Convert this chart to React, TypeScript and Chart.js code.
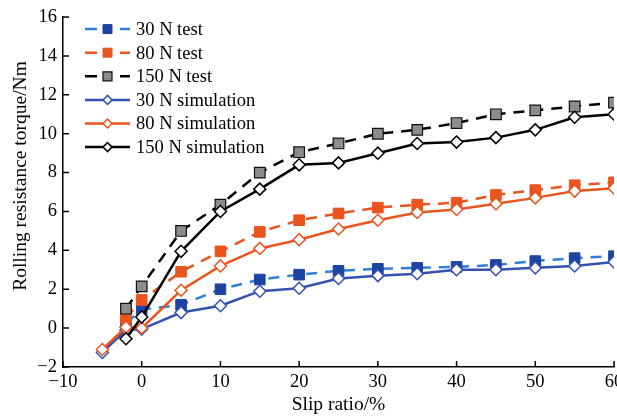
import React, { useEffect, useRef } from "react";
import { Chart, registerables } from "chart.js";

Chart.register(...registerables);

// ---- Data ----
const xTest = [-2, 0, 5, 10, 15, 20, 25, 30, 35, 40, 45, 50, 55, 60];
const test30 = [0.25, 0.95, 1.2, 2.0, 2.5, 2.75, 2.95, 3.05, 3.1, 3.15, 3.25, 3.45, 3.6, 3.7];
const test80 = [0.5, 1.45, 2.9, 3.95, 4.95, 5.55, 5.9, 6.2, 6.35, 6.45, 6.85, 7.1, 7.35, 7.5];
const test150 = [1.0, 2.15, 5.0, 6.35, 8.0, 9.05, 9.5, 10.0, 10.2, 10.55, 11.0, 11.2, 11.4, 11.6];

const xSim = [-5, -2, 0, 5, 10, 15, 20, 25, 30, 35, 40, 45, 50, 55, 60];
const sim30 = [-1.25, -0.1, -0.05, 0.8, 1.15, 1.9, 2.05, 2.55, 2.7, 2.8, 3.0, 3.0, 3.1, 3.2, 3.4];
const sim80 = [-1.1, 0.05, 0.0, 1.95, 3.2, 4.1, 4.55, 5.1, 5.55, 5.95, 6.1, 6.4, 6.7, 7.05, 7.2];
const sim150 = [null, -0.55, 0.57, 3.95, 6.0, 7.15, 8.4, 8.5, 9.0, 9.5, 9.57, 9.8, 10.2, 10.85, 11.0];

const seriesLabels = [
  "30 N test",
  "80 N test",
  "150 N test",
  "30 N simulation",
  "80 N simulation",
  "150 N simulation",
];

const xTitle = "Slip ratio/%";
const yTitle = "Rolling resistance torque/Nm";

const FONT_FAMILY = "'Liberation Serif', 'Times New Roman', serif";

const pts = (xs: number[], ys: (number | null)[]) => xs.map((x, i) => ({ x, y: ys[i] }));

const fmt = (v: number) => (v < 0 ? "\u2212" + Math.abs(v) : String(v));

const tickMarksPlugin = {
  id: "tickMarks",
  afterDraw(chart: any) {
    const { ctx, chartArea } = chart;
    const xs = chart.scales.x;
    const ys = chart.scales.y;
    ctx.save();
    ctx.strokeStyle = "#000";
    ctx.lineWidth = 1.5;
    ctx.beginPath();
    xs.ticks.forEach((t: any) => {
      const px = xs.getPixelForValue(t.value);
      ctx.moveTo(px, chartArea.bottom);
      ctx.lineTo(px, chartArea.bottom - 6);
    });
    ys.ticks.forEach((t: any) => {
      const py = ys.getPixelForValue(t.value);
      ctx.moveTo(chartArea.left, py);
      ctx.lineTo(chartArea.left + 6, py);
    });
    ctx.stroke();

    // axis titles
    ctx.fillStyle = "#000";
    ctx.font = `19.5px ${FONT_FAMILY}`;
    ctx.textAlign = "center";
    ctx.textBaseline = "middle";
    ctx.fillText(xTitle, (chartArea.left + chartArea.right) / 2, 405);
    ctx.save();
    ctx.translate(21, 176);
    ctx.rotate(-Math.PI / 2);
    ctx.fillText(yTitle, 0, 0);
    ctx.restore();
    ctx.restore();
  },
};

const legendPlugin = {
  id: "customLegend",
  afterDraw(chart: any) {
    const { ctx, chartArea } = chart;
    const x0 = chartArea.left + 22;
    const y0 = chartArea.top + 12;
    const rowH = 23.6;
    ctx.save();
    seriesLabels.forEach((label, row) => {
      const ds = chart.data.datasets.find((d: any) => d.label === label);
      if (!ds) return;
      const y = y0 + row * rowH;
      const xa = x0;
      const xb = x0 + 45;
      const xm = (xa + xb) / 2;
      ctx.strokeStyle = ds.borderColor;
      ctx.lineWidth = ds.borderWidth;
      ctx.setLineDash([]);
      ctx.beginPath();
      if (ds.borderDash && ds.borderDash.length) {
        ctx.moveTo(xa, y);
        ctx.lineTo(xa + 12, y);
        ctx.moveTo(xb - 10, y);
        ctx.lineTo(xb, y);
      } else {
        ctx.moveTo(xa, y);
        ctx.lineTo(xb, y);
      }
      ctx.stroke();
      // marker
      ctx.fillStyle = ds.pointBackgroundColor;
      ctx.strokeStyle = ds.pointBorderColor;
      ctx.lineWidth = ds.pointBorderWidth;
      if (ds.pointStyle === "rect") {
        const s = 4.5;
        ctx.beginPath();
        ctx.rect(xm - s, y - s, 2 * s, 2 * s);
        ctx.fill();
        ctx.stroke();
      } else {
        const r = 4.5;
        ctx.beginPath();
        ctx.moveTo(xm, y - r);
        ctx.lineTo(xm + r, y);
        ctx.lineTo(xm, y + r);
        ctx.lineTo(xm - r, y);
        ctx.closePath();
        ctx.fill();
        ctx.stroke();
      }
      ctx.fillStyle = "#000";
      ctx.font = `18.5px ${FONT_FAMILY}`;
      ctx.textAlign = "left";
      ctx.textBaseline = "middle";
      ctx.fillText(label, x0 + 51, y + 1);
    });
    ctx.restore();
  },
};

export default function App() {
  const ref = useRef<HTMLCanvasElement>(null);

  useEffect(() => {
    const canvas = ref.current;
    if (!canvas) return;
    const testDash = [11, 8];
    const datasets: any[] = [
      {
        label: seriesLabels[0],
        data: pts(xTest, test30),
        borderColor: "#2f7fd6",
        borderWidth: 2.5,
        borderDash: testDash,
        pointStyle: "rect",
        pointRadius: 7.5,
        pointBackgroundColor: "#1d44a3",
        pointBorderColor: "#1d44a3",
        pointBorderWidth: 1,
        order: 5,
      },
      {
        label: seriesLabels[1],
        data: pts(xTest, test80),
        borderColor: "#e9541f",
        borderWidth: 2.5,
        borderDash: testDash,
        pointStyle: "rect",
        pointRadius: 7.5,
        pointBackgroundColor: "#e9541f",
        pointBorderColor: "#e9541f",
        pointBorderWidth: 1,
        order: 4,
      },
      {
        label: seriesLabels[2],
        data: pts(xTest, test150),
        borderColor: "#000000",
        borderWidth: 2.5,
        borderDash: testDash,
        pointStyle: "rect",
        pointRadius: 7.5,
        pointBackgroundColor: "#8c8c8c",
        pointBorderColor: "#111111",
        pointBorderWidth: 1.2,
        order: 3,
      },
      {
        label: seriesLabels[3],
        data: pts(xSim, sim30),
        borderColor: "#3450b0",
        borderWidth: 2.5,
        pointStyle: "rectRot",
        pointRadius: 6,
        pointBackgroundColor: "#ffffff",
        pointBorderColor: "#3450b0",
        pointBorderWidth: 1.5,
        order: 2,
      },
      {
        label: seriesLabels[4],
        data: pts(xSim, sim80),
        borderColor: "#e9541f",
        borderWidth: 2.5,
        pointStyle: "rectRot",
        pointRadius: 6,
        pointBackgroundColor: "#ffffff",
        pointBorderColor: "#e9541f",
        pointBorderWidth: 1.5,
        order: 1,
      },
      {
        label: seriesLabels[5],
        data: pts(xSim, sim150),
        borderColor: "#000000",
        borderWidth: 2.5,
        pointStyle: "rectRot",
        pointRadius: 6,
        pointBackgroundColor: "#ffffff",
        pointBorderColor: "#000000",
        pointBorderWidth: 1.5,
        order: 0,
      },
    ];

    const font = { family: FONT_FAMILY, size: 18.5 };

    const chart = new Chart(canvas, {
      type: "line",
      data: { datasets },
      options: {
        responsive: false,
        animation: false,
        devicePixelRatio: 1,
        layout: { padding: { top: 15, right: 26, left: 0, bottom: 0 } },
        plugins: {
          legend: { display: false },
          tooltip: { enabled: false },
        },
        elements: { line: { tension: 0 } },
        scales: {
          x: {
            type: "linear",
            min: -10,
            max: 60,
            ticks: {
              stepSize: 10,
              font,
              color: "#000",
              padding: 4,
              maxRotation: 0,
              callback: (v: any) => fmt(Number(v)),
            },
            grid: { display: false, drawTicks: false },
            border: { color: "#000", width: 1.5 },
            afterFit: (s: any) => {
              s.height = 49;
            },
          },
          y: {
            type: "linear",
            min: -2,
            max: 16,
            ticks: {
              stepSize: 2,
              font,
              color: "#000",
              padding: 6,
              callback: (v: any) => fmt(Number(v)),
            },
            grid: { display: false, drawTicks: false },
            border: { color: "#000", width: 1.5 },
            afterFit: (s: any) => {
              s.width = 63;
            },
          },
        },
      } as any,
      plugins: [tickMarksPlugin, legendPlugin],
    });
    return () => chart.destroy();
  }, []);

  return (
    <div
      style={{
        position: "absolute",
        left: 0,
        top: 0,
        width: 617,
        height: 416,
        overflow: "hidden",
        background: "#fff",
      }}
    >
      <canvas ref={ref} width={640} height={416} style={{ display: "block" }} />
    </div>
  );
}
